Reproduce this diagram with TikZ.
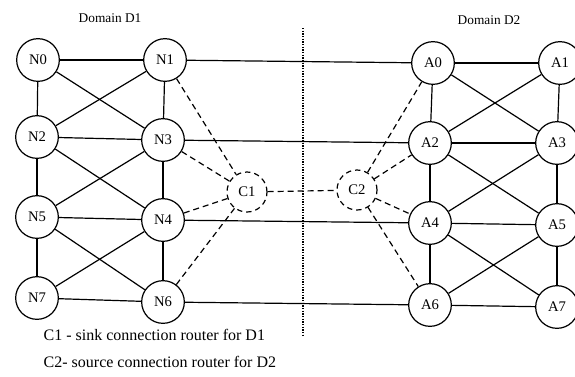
\documentclass[tikz,border=0pt]{standalone}
\usepackage{fontspec}
\setmainfont{Liberation Serif}
\begin{document}
\begin{tikzpicture}[x=0.75pt,y=-0.75pt,
  router/.style={circle,draw,line width=0.9pt,minimum size=32pt,inner sep=0pt,font=\fontsize{11}{13}\selectfont},
  conn/.style={circle,draw,dash pattern=on 4pt off 3pt,line width=0.9pt,minimum size=30pt,inner sep=0pt,font=\fontsize{11}{13}\selectfont},
  link/.style={line width=0.9pt},
  dlink/.style={line width=0.9pt,dash pattern=on 4.5pt off 3pt},
  lbl/.style={font=\fontsize{10}{12}\selectfont},
  note/.style={font=\fontsize{12}{14}\selectfont,anchor=west}]
\useasboundingbox (0,0) rectangle (575,376);
% Domain D1
\node[router] (N0) at (38,60) {N0};
\node[router] (N1) at (165,60) {N1};
\node[router] (N2) at (37,137) {N2};
\node[router] (N3) at (163,140) {N3};
\node[router] (N5) at (37,217) {N5};
\node[router] (N4) at (163,220) {N4};
\node[router] (N7) at (37,298) {N7};
\node[router] (N6) at (163,302) {N6};
% Domain D2
\node[router] (A0) at (433,63) {A0};
\node[router] (A1) at (560,63) {A1};
\node[router] (A2) at (430,143) {A2};
\node[router] (A3) at (557,143) {A3};
\node[router] (A4) at (430,223) {A4};
\node[router] (A5) at (557,225) {A5};
\node[router] (A6) at (430,305) {A6};
\node[router] (A7) at (557,307) {A7};
% connection routers
\node[conn] (C1) at (247,192) {C1};
\node[conn] (C2) at (357,190) {C2};
% labels
\node[lbl] (d1) at (110,18) {Domain D1};
\node[lbl] (d2) at (489,20) {Domain D2};
\node[note] (t1) at (39,335) {C1 - sink connection router for D1};
\node[note] (t2) at (39,362) {C2- source connection router for D2};
% divider
\coordinate (top) at (303,28);
\coordinate (bot) at (303,336);
\draw[line width=1pt,dash pattern=on 1pt off 1pt] (top) -- (bot);
% D1 links
\foreach \a/\b in {N0/N1,N0/N2,N0/N3,N1/N2,N1/N3,N2/N3,N2/N5,N2/N4,N3/N5,N3/N4,N5/N4,N5/N7,N5/N6,N4/N7,N4/N6,N7/N6}
  \draw[link] (\a) -- (\b);
% D2 links
\foreach \a/\b in {A0/A1,A0/A2,A0/A3,A1/A2,A1/A3,A2/A3,A2/A4,A2/A5,A3/A4,A3/A5,A4/A5,A4/A6,A4/A7,A5/A6,A5/A7,A6/A7}
  \draw[link] (\a) -- (\b);
% inter-domain links
\draw[link] (N1) -- (A0);
\draw[link] (N3) -- (A2);
\draw[link] (N4) -- (A4);
\draw[link] (N6) -- (A6);
% dashed
\foreach \n in {N1,N3,N4,N6} \draw[dlink] (\n) -- (C1);
\foreach \n in {A0,A2,A4,A6} \draw[dlink] (C2) -- (\n);
\draw[dlink] (C1) -- (C2);
\end{tikzpicture}
\end{document}
